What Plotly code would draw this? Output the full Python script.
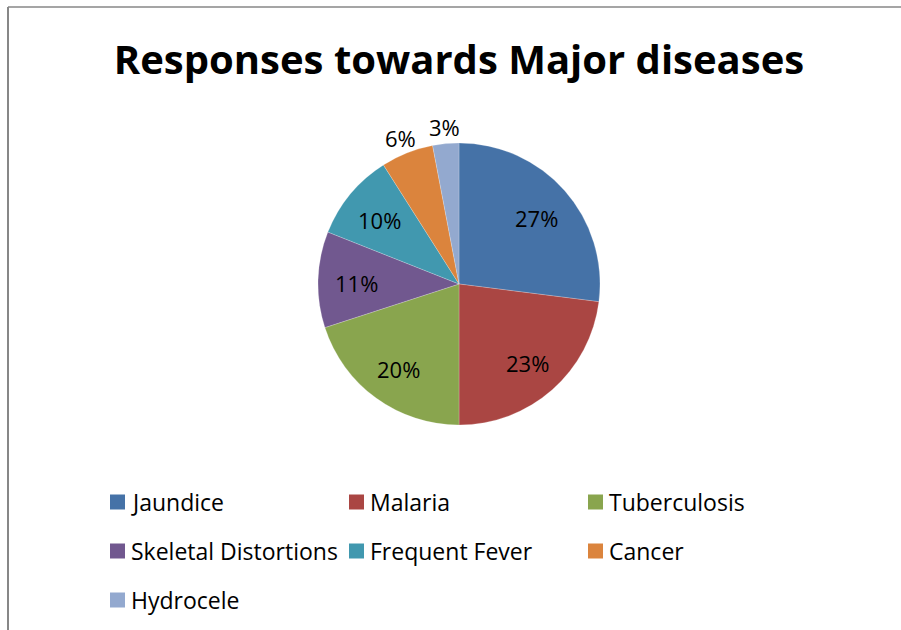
import math
import plotly.graph_objects as go

# Survey responses per disease (percent of respondents)
diseases = ["Jaundice", "Malaria", "Tuberculosis", "Skeletal Distortions",
            "Frequent Fever", "Cancer", "Hydrocele"]
shares = [27, 23, 20, 11, 10, 6, 3]
colors = ["#4572A7", "#AA4643", "#89A54E", "#71588F",
          "#4198AF", "#DB843D", "#93A9CF"]
title_text = "Responses towards Major diseases"

W, H = 901, 630
FONT = "Open Sans, Carlito, Calibri, sans-serif"

# pie geometry in pixels
cx, cy, R = 459, 284, 141


def fx(x):
    return x / W


def fy(y):
    return 1 - y / H


fig = go.Figure(go.Pie(
    labels=diseases,
    values=shares,
    marker=dict(colors=colors, line=dict(color="rgba(255,255,255,0.35)", width=0.6)),
    sort=False,
    direction="clockwise",
    rotation=0,
    textinfo="none",
    hoverinfo="label+value",
    showlegend=False,
    domain=dict(x=[fx(cx - R), fx(cx + R)], y=[fy(cy + R), fy(cy - R)]),
))

annotations = []
shapes = []

# percentage labels at each slice's mid-angle
total = sum(shares)
cum = 0
for v in shares:
    mid = (cum + v / 2) / total * 2 * math.pi
    cum += v
    k = 0.73 if v > 8 else 1.13
    x = cx + k * R * math.sin(mid)
    y = cy - k * R * math.cos(mid)
    annotations.append(dict(
        x=fx(x), y=fy(y + 2), xref="paper", yref="paper",
        text=f"{v}%", showarrow=False,
        xanchor="center", yanchor="middle",
        font=dict(family=FONT, size=22, color="#000000"),
    ))

# legend: three columns of colour swatches with names
col_x = [110, 349, 588]
row_y = [502, 551, 600]
sw = 15
for i, (name, c) in enumerate(zip(diseases, colors)):
    x0 = col_x[i % 3]
    yc = row_y[i // 3]
    shapes.append(dict(
        type="rect", xref="paper", yref="paper",
        x0=fx(x0), x1=fx(x0 + sw), y0=fy(yc + sw / 2), y1=fy(yc - sw / 2),
        fillcolor=c, line=dict(width=0),
    ))
    annotations.append(dict(
        x=fx(x0 + sw + 4), y=fy(yc), xref="paper", yref="paper",
        text=name, showarrow=False, xanchor="left", yanchor="middle",
        font=dict(family=FONT, size=23, color="#000000"),
    ))

# chart area frame (top and left edges)
shapes.append(dict(type="line", xref="paper", yref="paper",
                   x0=fx(8), x1=1.0, y0=fy(7), y1=fy(7),
                   line=dict(color="#878787", width=1.5)))
shapes.append(dict(type="line", xref="paper", yref="paper",
                   x0=fx(8), x1=fx(8), y0=fy(7), y1=0,
                   line=dict(color="#878787", width=2)))

fig.update_layout(
    width=W, height=H,
    margin=dict(l=0, r=0, t=0, b=0),
    paper_bgcolor="white", plot_bgcolor="white",
    title=dict(text=f"<b>{title_text}</b>", x=fx(459), xanchor="center",
               y=fy(60), yanchor="middle",
               font=dict(family=FONT, size=40, color="#000000")),
    annotations=annotations,
    shapes=shapes,
)

fig.write_html("out.html")
